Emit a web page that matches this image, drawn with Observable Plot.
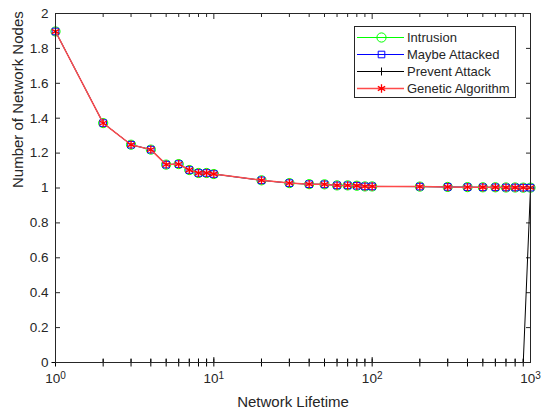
<!DOCTYPE html>
<html><head><meta charset="utf-8">
<script src="https://cdn.jsdelivr.net/npm/d3@7"></script>
<script src="https://cdn.jsdelivr.net/npm/@observablehq/plot@0.6"></script>
<style>
body{margin:0;background:#fff}
#chart{position:relative;width:544px;height:408px;background:#fff}
</style>
</head><body><div id="chart"></div>
<script>
// ---- data ----
const lifetime = [1,2,3,4,5,6,7,8,9,10,20,30,40,50,60,70,80,90,100,200,300,400,500,600,700,800,900,1000];
const intrusion        = [1.897,1.372,1.248,1.220,1.134,1.137,1.103,1.086,1.086,1.080,1.044,1.028,1.022,1.021,1.015,1.015,1.013,1.009,1.009,1.008,1.006,1.005,1.004,1.004,1.003,1.003,1.002,1.002];
const maybeAttacked    = [1.897,1.372,1.248,1.220,1.134,1.137,1.103,1.086,1.086,1.080,1.044,1.028,1.022,1.021,1.015,1.015,1.013,1.009,1.009,1.008,1.006,1.005,1.004,1.004,1.003,1.003,1.002,1.002];
const preventAttack    = [0,0,0,0,0,0,0,0,0,0,0,0,0,0,0,0,0,0,0,0,0,0,0,0,0,0,0,1];
const geneticAlgorithm = [1.897,1.372,1.248,1.220,1.134,1.137,1.103,1.086,1.086,1.080,1.044,1.028,1.022,1.021,1.015,1.015,1.013,1.009,1.009,1.008,1.006,1.005,1.004,1.004,1.003,1.003,1.002,1.002];

const seriesNames   = ["Intrusion","Maybe Attacked","Prevent Attack","Genetic Algorithm"];
const seriesValues  = [intrusion, maybeAttacked, preventAttack, geneticAlgorithm];
const seriesColors  = ["#00ff00","#0000ff","#000000","#ff0000"];
const lineColors    = ["#00ff00","#0000ff","#000000","#ff4a4a"];
const lineWidths    = [1, 1, 1, 1.5];
const seriesSymbols = ["circle","square2","plus","asterisk"];
const symbolRadius  = {circle: 4.6, square2: 4.2, plus: 2.7, asterisk: 4};
const symbolWidth   = {circle: 1, square2: 1, plus: 1, asterisk: 1.3};

const yTicks = [0,0.2,0.4,0.6,0.8,1,1.2,1.4,1.6,1.8,2];
const xMajorTicks = [1,10,100,1000];
const xMinorTicks = [2,3,4,5,6,7,8,9,20,30,40,50,60,70,80,90,200,300,400,500,600,700,800,900];
const xLabel = "Network Lifetime";
const yLabel = "Number of Network Nodes";

const ink = "#262626";
const font = "'Liberation Sans', Arial, Helvetica, sans-serif";

const seriesMarks = [];
seriesNames.forEach((name, i) => {
  const rows = lifetime.map((x, j) => ({x, y: seriesValues[i][j], series: name}));
  const sym = seriesSymbols[i];
  seriesMarks.push(Plot.line(rows, {x: "x", y: "y", stroke: lineColors[i], strokeWidth: lineWidths[i]}));
  seriesMarks.push(Plot.dot(rows, {x: "x", y: "y", stroke: seriesColors[i], fill: "none", symbol: sym, r: symbolRadius[sym], strokeWidth: symbolWidth[sym]}));
});

const plot = Plot.plot({
  width: 544, height: 408,
  marginLeft: 55, marginRight: 14, marginTop: 13, marginBottom: 46,
  style: {fontFamily: font, fontSize: "13px", color: ink, background: "white", overflow: "visible"},
  x: {type: "log", domain: [1, 1000]},
  y: {domain: [0, 2]},
  marks: [
    // inward ticks
    Plot.axisY(yTicks, {anchor: "left", tickSize: 5, dx: 5, fill: "none", label: null, stroke: ink}),
    Plot.axisY(yTicks, {anchor: "right", tickSize: 5, dx: -5, fill: "none", label: null, stroke: ink}),
    Plot.axisX(xMajorTicks, {anchor: "top", tickSize: 5, dy: 5, fill: "none", label: null, stroke: ink}),
    Plot.axisX(xMinorTicks, {anchor: "top", tickSize: 3, dy: 3, fill: "none", label: null, stroke: ink}),
    Plot.axisX(xMajorTicks, {anchor: "bottom", tickSize: 5, dy: -5, fill: "none", label: null, stroke: ink}),
    Plot.axisX(xMinorTicks, {anchor: "bottom", tickSize: 3, dy: -3, fill: "none", label: null, stroke: ink}),
    // tick labels
    Plot.axisY(yTicks, {anchor: "left", tickSize: 0, tickPadding: 7, label: null, fill: ink, fontSize: 13.5,
      tickFormat: d => String(+d.toFixed(1))}),
    Plot.axisX(xMajorTicks, {anchor: "bottom", tickSize: 0, tickPadding: 11, label: null, fill: ink, fontSize: 13.5,
      tickFormat: d => "10^" + Math.round(Math.log10(d))}),
    // axis titles
    Plot.text([xLabel], {text: d => d, frameAnchor: "bottom", lineAnchor: "bottom", dy: 44, fontSize: 15, fill: ink}),
    Plot.text([yLabel], {text: d => d, frameAnchor: "left", rotate: -90, dx: -37, fontSize: 15, fill: ink}),
    ...seriesMarks,
    Plot.frame({stroke: ink, strokeWidth: 1})
  ]
});

// superscript exponents on the x tick labels
d3.select(plot).selectAll('g[aria-label="x-axis tick label"] text').each(function() {
  const parts = this.textContent.split("^");
  if (parts.length !== 2) return;
  const t = d3.select(this);
  t.text(null);
  t.append("tspan").text(parts[0]);
  t.append("tspan").attr("dy", "-0.45em").attr("font-size", "10px").text(parts[1]);
});

// legend (MATLAB style box, inside the plot area, top right)
const svg = d3.select(plot);
const lg = svg.append("g").attr("font-family", font).attr("font-size", "13px").attr("text-anchor", "start");
const box = {x: 354.5, y: 26.5, w: 161, h: 71};
lg.append("rect").attr("x", box.x).attr("y", box.y).attr("width", box.w).attr("height", box.h)
  .attr("fill", "white").attr("stroke", ink).attr("stroke-width", 1);
seriesNames.forEach((name, i) => {
  const cy = 37.5 + i * 17;
  const sym = seriesSymbols[i];
  lg.append("line").attr("x1", 357).attr("x2", 404).attr("y1", cy).attr("y2", cy)
    .attr("stroke", lineColors[i]).attr("stroke-width", lineWidths[i]);
  const size = Math.PI * Math.pow(symbolRadius[sym], 2);
  const symType = {circle: d3.symbolCircle, square2: d3.symbolSquare2, plus: d3.symbolPlus, asterisk: d3.symbolAsterisk}[sym];
  lg.append("path").attr("d", d3.symbol(symType, size)()).attr("transform", `translate(381.5,${cy})`)
    .attr("fill", "none").attr("stroke", seriesColors[i]).attr("stroke-width", symbolWidth[sym]);
  lg.append("text").attr("x", 407).attr("y", cy).attr("dy", "0.36em").attr("text-anchor", "start").attr("fill", ink).text(name);
});

document.getElementById("chart").appendChild(plot);
</script>
</body></html>
